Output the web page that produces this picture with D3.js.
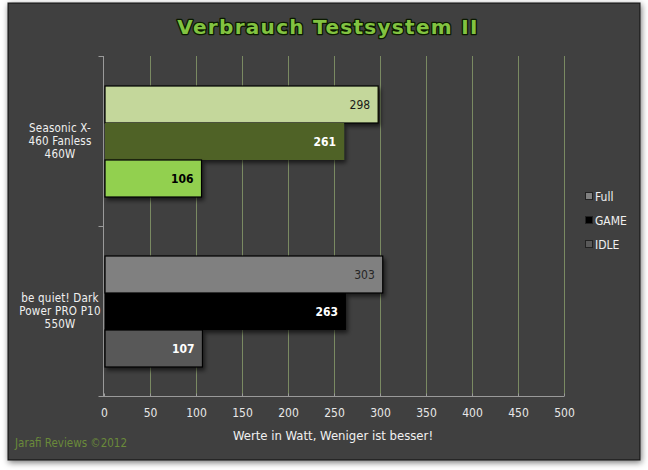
<!DOCTYPE html>
<html>
<head>
<meta charset="utf-8">
<script src="https://cdn.jsdelivr.net/npm/d3@7"></script>
<style>
  body { margin: 0; background: #ffffff; }
  svg { display: block; }
</style>
</head>
<body>
<div id="chart"></div>
<script>
// ------- data -----------
var categories = ["Seasonic X-460 Fanless 460W", "be quiet! Dark Power PRO P10 550W"];
var cat_lines = [["Seasonic X-", "460 Fanless", "460W"], ["be quiet! Dark", "Power PRO P10", "550W"]];
var series = ["Full", "GAME", "IDLE"];
var full_vals = [298, 303];
var game_vals = [261, 263];
var idle_vals = [106, 107];
var x_ticks = [0, 50, 100, 150, 200, 250, 300, 350, 400, 450, 500];

// colours differ per product (vary-by-point)
var bar_colors = [
  ["#c4d79b", "#4f6228", "#92d050"],
  ["#808080", "#000000", "#595959"]
];
var label_colors = [
  ["#1a1a1a", "#ffffff", "#000000"],
  ["#262626", "#ffffff", "#ffffff"]
];
var legend_colors = ["#808080", "#000000", "#595959"];

var W = 648, H = 470;
var svg = d3.select("#chart").append("svg").attr("width", W).attr("height", H);
var defs = svg.append("defs");

var sh = defs.append("filter").attr("id", "frameShadow")
  .attr("x", "-5%").attr("y", "-5%").attr("width", "110%").attr("height", "110%");
sh.append("feDropShadow").attr("dx", 1).attr("dy", 2).attr("stdDeviation", 3)
  .attr("flood-color", "#000").attr("flood-opacity", 0.55);

var bsh = defs.append("filter").attr("id", "barShadow")
  .attr("x", "-5%").attr("y", "-20%").attr("width", "115%").attr("height", "150%");
bsh.append("feDropShadow").attr("dx", 2).attr("dy", 3).attr("stdDeviation", 2)
  .attr("flood-color", "#000").attr("flood-opacity", 0.6);

// frame
svg.append("rect").attr("x", 8).attr("y", 3).attr("width", 632).attr("height", 457)
  .attr("fill", "#3f3f3f").attr("stroke", "#111").attr("stroke-width", 1)
  .attr("filter", "url(#frameShadow)");

// title
svg.append("text").attr("x", 328).attr("y", 34).attr("text-anchor", "middle")
  .style("font-family", "'DejaVu Sans', Verdana, sans-serif")
  .style("font-size", "20px").style("font-weight", "bold").style("letter-spacing", "1.3px")
  .attr("fill", "#82c341").attr("stroke", "#0b1a00").attr("stroke-width", 2.6)
  .attr("paint-order", "stroke").attr("stroke-linejoin", "round")
  .text("Verbrauch Testsystem II");

// ------- scales -----------
var x = d3.scaleLinear().domain([0, 500]).range([104, 564]);
var y = d3.scaleBand().domain(categories).range([56, 396]);
var inner = d3.scaleBand().domain(series).range([30, 141]);

// gridlines
svg.append("g").selectAll("line").data(x_ticks.slice(1)).join("line")
  .attr("x1", function(d) { return x(d) + 0.5; })
  .attr("x2", function(d) { return x(d) + 0.5; })
  .attr("y1", 56).attr("y2", 396)
  .attr("stroke", "#7a8a62").attr("stroke-width", 1);

// x axis
var xAxis = svg.append("g").attr("transform", "translate(0,396.5)")
  .call(d3.axisBottom(x).tickValues(x_ticks).tickSize(0).tickPadding(12));
xAxis.select(".domain").attr("stroke", "#9a9a9a").attr("d", "M100,0H564");
xAxis.selectAll(".tick text").attr("fill", "#e8e8e8")
  .style("font-family", "'DejaVu Sans Condensed', 'DejaVu Sans', sans-serif")
  .style("font-size", "12px");
xAxis.selectAll(".tick").append("line")
  .attr("y1", -3).attr("y2", 0).attr("stroke", "#9a9a9a");

// y axis
var yAxis = svg.append("g").attr("transform", "translate(103.5,0)")
  .call(d3.axisLeft(y).tickSize(0).tickFormat(""));
yAxis.select(".domain").attr("stroke", "#9a9a9a").attr("d", "M0,56V396");
yAxis.selectAll(".sep").data([56, 226, 396]).join("line").attr("class", "sep")
  .attr("x1", -5).attr("x2", 0)
  .attr("y1", function(d) { return d + 0.5; }).attr("y2", function(d) { return d + 0.5; })
  .attr("stroke", "#9a9a9a");

// category labels
categories.forEach(function(c, i) {
  var cy = y(c) + y.bandwidth() / 2;
  var t = svg.append("text").attr("text-anchor", "middle")
    .attr("fill", "#f0f0f0")
    .style("font-family", "'DejaVu Sans Condensed', 'DejaVu Sans', sans-serif")
    .style("font-size", "11.5px").style("letter-spacing", "0.2px");
  cat_lines[i].forEach(function(line, k) {
    t.append("tspan").attr("x", 60).attr("y", cy - 9 + k * 13).text(line);
  });
});

// bars
var rows = [];
categories.forEach(function(c, i) {
  var vals = [full_vals[i], game_vals[i], idle_vals[i]];
  series.forEach(function(s, j) {
    rows.push({cat: c, ser: s, v: vals[j], ci: i, si: j});
  });
});

var bars = svg.append("g");
bars.selectAll("rect").data(rows).join("rect")
  .attr("x", x(0) + 1)
  .attr("y", function(d) { return y(d.cat) + inner(d.ser); })
  .attr("width", function(d) { return x(d.v) - x(0) - 1; })
  .attr("height", inner.bandwidth())
  .attr("fill", function(d) { return bar_colors[d.ci][d.si]; })
  .attr("stroke", function(d) { return d.si === 1 ? "none" : "#000"; })
  .attr("stroke-width", 1.2)
  .attr("filter", "url(#barShadow)");

bars.selectAll("text").data(rows).join("text")
  .attr("x", function(d) { return x(d.v) - 8; })
  .attr("y", function(d) { return y(d.cat) + inner(d.ser) + inner.bandwidth() / 2 + 4; })
  .attr("text-anchor", "end")
  .attr("fill", function(d) { return label_colors[d.ci][d.si]; })
  .style("font-family", "'DejaVu Sans Condensed', 'DejaVu Sans', sans-serif")
  .style("font-size", "12px")
  .style("font-weight", function(d) { return d.si === 0 ? "normal" : "bold"; })
  .text(function(d) { return d.v; });

// legend
var leg = svg.append("g").selectAll("g").data(series).join("g")
  .attr("transform", function(d, i) { return "translate(585," + (192 + i * 24) + ")"; });
leg.append("rect").attr("x", 0.5).attr("y", 0.5).attr("width", 7).attr("height", 7)
  .attr("fill", function(d, i) { return legend_colors[i]; })
  .attr("stroke", "#222");
leg.append("text").attr("x", 10).attr("y", 9)
  .attr("fill", "#f0f0f0")
  .style("font-family", "'DejaVu Sans Condensed', 'DejaVu Sans', sans-serif")
  .style("font-size", "12px")
  .text(function(d) { return d; });

// axis title
svg.append("text").attr("x", 333).attr("y", 440).attr("text-anchor", "middle")
  .attr("fill", "#f0f0f0")
  .style("font-family", "'DejaVu Sans Condensed', 'DejaVu Sans', sans-serif")
  .style("font-size", "13px")
  .text("Werte in Watt, Weniger ist besser!");

// footer
svg.append("text").attr("x", 15).attr("y", 447)
  .attr("fill", "#6a8a3a")
  .style("font-family", "'Liberation Sans Narrow', 'DejaVu Sans Condensed', sans-serif")
  .style("font-size", "11.5px")
  .text("Jarafi Reviews  \u00a92012");
</script>
</body>
</html>
